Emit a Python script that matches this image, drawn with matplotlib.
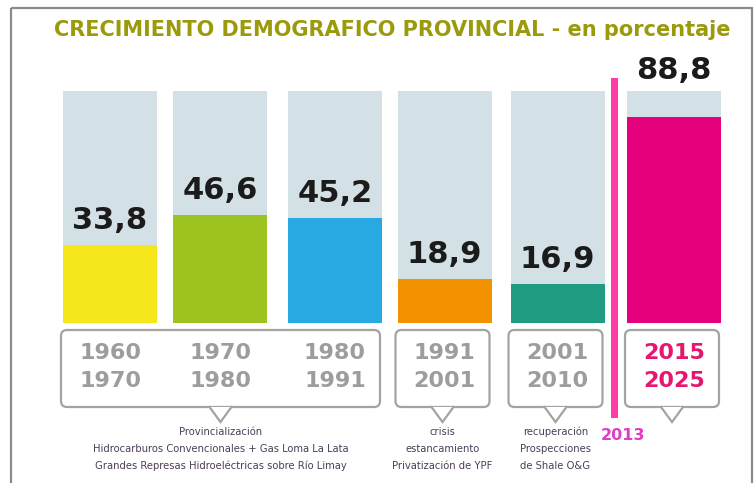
import matplotlib
matplotlib.use("Agg")
import matplotlib.pyplot as plt
from matplotlib.patches import FancyBboxPatch, Polygon, Rectangle

# growth per period, in percent
values = [33.8, 46.6, 45.2, 18.9, 16.9, 88.8]
value_labels = ["33,8", "46,6", "45,2", "18,9", "16,9", "88,8"]
bar_colors = ["#f5e71c", "#9cc31f", "#29a9e1", "#f39200", "#1f9c82", "#e5007d"]
periods = [("1960", "1970"), ("1970", "1980"), ("1980", "1991"),
           ("1991", "2001"), ("2001", "2010"), ("2015", "2025")]
period_colors = ["#9d9d9d"] * 5 + ["#e8156f"]

# callout groups: (first bar, last bar, caption lines)
groups = [
    (0, 2, ["Provincialización",
            "Hidrocarburos Convencionales + Gas Loma La Lata",
            "Grandes Represas Hidroeléctricas sobre Río Limay"]),
    (3, 3, ["crisis", "estancamiento", "Privatización de YPF"]),
    (4, 4, ["recuperación", "Prospecciones", "de Shale O&G"]),
    (5, 5, []),
]
title = "CRECIMIENTO DEMOGRAFICO PROVINCIAL - en porcentaje"
marker_year = "2013"

# layout in pixels
W, H = 755, 483
centers = [110, 220, 335, 444.5, 557.5, 674]
bar_w = 94
bar_bottom, bar_top = 323, 91
full_scale = 100

fig = plt.figure(figsize=(W / 100, H / 100), dpi=100)
ax = fig.add_axes([0, 0, 1, 1])
ax.set_xlim(0, W)
ax.set_ylim(H, 0)
ax.axis("off")

bax = fig.add_axes([0, (H - bar_bottom) / H, 1, (bar_bottom - bar_top) / H])
bax.set_xlim(0, W)
bax.set_ylim(0, full_scale)
bax.axis("off")

# frame
ax.add_patch(Rectangle((11, 8), 741, 500, fill=False, ec="#8a8a8a", lw=1.6))

ax.text(392, 30, title, ha="center", va="center", fontsize=15,
        fontweight="bold", color="#9b9a0a")

# background columns and value bars
bax.bar(centers, [full_scale] * len(values), width=bar_w, color="#d3e0e5")
bax.bar(centers, values, width=bar_w, color=bar_colors)
for c, v, lab in zip(centers, values, value_labels):
    y = full_scale if v > full_scale - 15 else v
    bax.annotate(lab, (c, y), xytext=(0, 4 if y == full_scale else 7),
                 textcoords="offset points", ha="center", va="bottom",
                 fontsize=22, fontweight="heavy", color="#1b1b1b")

# year callout boxes
box_top, box_bot = 330, 407
for i0, i1, caption in groups:
    x0 = centers[i0] - bar_w / 2 - 2
    x1 = centers[i1] + bar_w / 2 - 2
    ax.add_patch(FancyBboxPatch((x0, box_top), x1 - x0, box_bot - box_top,
                                boxstyle="round,pad=0,rounding_size=6",
                                fill=False, ec="#a3a3a3", lw=1.6))
    cx = (x0 + x1) / 2
    ax.add_patch(Polygon([(cx - 11, box_bot), (cx, box_bot + 15), (cx + 11, box_bot)],
                         closed=True, fc="white", ec="none", zorder=3))
    ax.plot([cx - 11, cx, cx + 11], [box_bot, box_bot + 15, box_bot],
            color="#a3a3a3", lw=1.6, zorder=4, solid_joinstyle="miter")
    for k, line in enumerate(caption):
        ax.text(cx, 432 + k * 17, line, ha="center", va="center", fontsize=8,
                family="DejaVu Sans", fontstretch="condensed", color="#4c3d58")

for c, (a, b), col in zip(centers, periods, period_colors):
    ax.text(c, 353, a, ha="center", va="center", fontsize=16,
            fontweight="bold", color=col)
    ax.text(c, 381, b, ha="center", va="center", fontsize=16,
            fontweight="bold", color=col)

# 2013 marker line
ax.add_patch(Rectangle((611, 78), 7, 340, color="#ff3aa9", lw=0))
ax.text(623, 435, marker_year, ha="center", va="center", fontsize=11.5,
        fontweight="bold", color="#e03cc4")

fig.savefig("out.png", dpi=100)
